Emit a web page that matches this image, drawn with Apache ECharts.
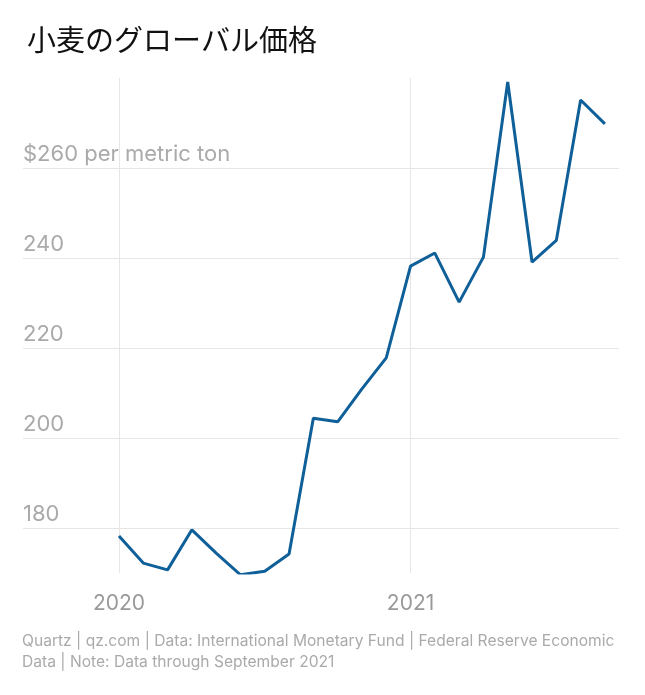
<!DOCTYPE html>
<html><head><meta charset="utf-8">
<script src="https://cdn.jsdelivr.net/npm/echarts@6/dist/echarts.min.js"></script>
<style>body{margin:0;background:#fff}#main{width:645px;height:695px}</style>
</head><body><div id="main"></div>
<script>
// 月次データ 2020年1月〜2021年9月
var months = ['2020-01','2020-02','2020-03','2020-04','2020-05','2020-06','2020-07','2020-08','2020-09','2020-10','2020-11','2020-12',
              '2021-01','2021-02','2021-03','2021-04','2021-05','2021-06','2021-07','2021-08','2021-09'];
var prices = [178.2,172.2,170.7,179.6,174.4,169.6,170.4,174.2,204.4,203.6,210.9,217.8,
              238.2,241.1,230.2,240.2,279.1,239.1,243.9,275.1,269.8];
var yearTicks = {0: '2020', 12: '2021'};

var myChart = echarts.init(document.getElementById('main'));
var t = 'transparent', g = '#e6e6e6';
var option = {
    backgroundColor: '#fff',
    title: {
        text: '小麦のグローバル価格', left: 22, top: 20,
        textStyle: {fontFamily: 'Noto Sans CJK JP', fontSize: 29, fontWeight: 'normal', color: '#111'}
    },
    graphic: [{
        type: 'text', left: 22, top: 631,
        style: {
            text: 'Quartz | qz.com | Data: International Monetary Fund | Federal Reserve Economic\nData | Note: Data through September 2021',
            fill: '#aaa', font: '15.6px Inter', lineHeight: 21
        }
    }],
    grid: {left: 23, right: 26, top: 78, bottom: 122},
    xAxis: {
        type: 'value', min: -3.95, max: 20.58,
        axisLine: {show: false}, axisTick: {show: false},
        splitLine: {show: false},
        axisLabel: {
            customValues: [0, 12],
            margin: 20, color: '#999', fontSize: 21, fontFamily: 'Inter',
            formatter: function (v) { return yearTicks[v] || ''; }
        }
    },
    yAxis: {
        type: 'value', min: 170, max: 280, interval: 10,
        axisLine: {show: false}, axisTick: {show: false},
        splitLine: {lineStyle: {color: [t,g,t,g,t,g,t,g,t,g,t,t]}},
        axisLabel: {
            inside: true, margin: 0, verticalAlign: 'bottom', align: 'left', padding: [0,0,3,0],
            color: '#aaa', fontSize: 22, fontFamily: 'Inter',
            formatter: function (v) {
                if (v % 20 !== 0 || v < 180 || v > 260) return '';
                return v === 260 ? '$260 per metric ton' : String(v);
            }
        }
    },
    series: [{
        type: 'line', symbol: 'none', z: 1, data: [],
        markLine: {
            silent: true, symbol: 'none', label: {show: false},
            lineStyle: {color: g, type: 'solid', width: 1},
            data: [{xAxis: 0}, {xAxis: 12}]
        }
    }, {
        type: 'line', symbol: 'none', z: 5,
        lineStyle: {color: '#0f5f99', width: 3},
        data: prices.map(function (p, i) { return [i, p]; })
    }]
};
myChart.setOption(option, true);
</script></body></html>
